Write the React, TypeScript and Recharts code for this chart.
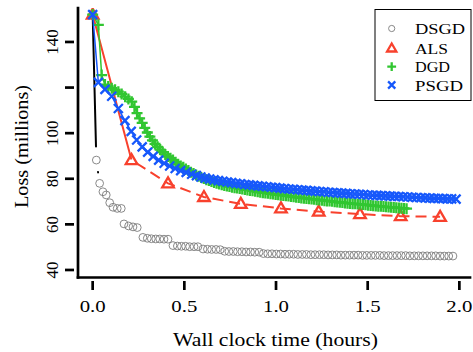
import { Scatter, ScatterChart, XAxis, YAxis } from "recharts";

// Loss (millions) vs wall clock time (hours).
const dsgdTime = [
  0, 0.02, 0.038, 0.056, 0.074, 0.093, 0.111, 0.134, 0.156, 0.171,
  0.196, 0.22, 0.243, 0.274, 0.298, 0.32, 0.344, 0.366, 0.389, 0.411,
  0.438, 0.462, 0.484, 0.507, 0.529, 0.553, 0.574, 0.602, 0.626, 0.649,
  0.673, 0.696, 0.72, 0.743, 0.767, 0.79, 0.814, 0.837, 0.861, 0.884,
  0.908, 0.931, 0.955, 0.978, 1.002, 1.025, 1.049, 1.072, 1.096, 1.119,
  1.143, 1.166, 1.19, 1.213, 1.237, 1.26, 1.284, 1.307, 1.331, 1.354,
  1.378, 1.401, 1.425, 1.448, 1.472, 1.495, 1.519, 1.542, 1.566, 1.589,
  1.613, 1.636, 1.66, 1.683, 1.707, 1.73, 1.754, 1.777, 1.801, 1.824,
  1.848, 1.871, 1.895, 1.918, 1.942, 1.965,
];
const dsgdLoss = [
  152, 88.2, 78.0, 74.3, 72.9, 69.5, 67.5, 67.0, 67.0, 60.2,
  59.3, 58.9, 58.6, 54.3, 53.9, 53.7, 53.6, 53.6, 53.5, 53.5,
  50.7, 50.5, 50.4, 50.4, 50.2, 50.2, 50.2, 49.2, 49.1, 49.0,
  49.0, 48.9, 48.2, 48.1, 48.1, 48.0, 48.0, 47.9, 47.9, 47.8,
  47.8, 47.2, 47.1, 47.1, 47.0, 47.0, 46.9, 46.9, 46.9, 46.8,
  46.8, 46.8, 46.7, 46.7, 46.7, 46.7, 46.6, 46.6, 46.6, 46.5,
  46.5, 46.5, 46.5, 46.5, 46.4, 46.4, 46.4, 46.4, 46.4, 46.3,
  46.3, 46.3, 46.3, 46.3, 46.3, 46.2, 46.2, 46.2, 46.2, 46.2,
  46.2, 46.2, 46.1, 46.1, 46.1, 46.1,
];

const alsTime = [0, 0.212, 0.411, 0.607, 0.808, 1.027, 1.233, 1.458, 1.68, 1.895];
const alsLoss = [152, 88.2, 78.0, 72.0, 69.0, 67.0, 65.6, 64.5, 63.6, 63.3];

const dgdTime = [
  0, 0.031, 0.049, 0.067, 0.085, 0.104, 0.122, 0.14, 0.158, 0.177,
  0.195, 0.213, 0.228, 0.242, 0.256, 0.27, 0.284, 0.298, 0.312, 0.326,
  0.34, 0.354, 0.368, 0.382, 0.396, 0.41, 0.424, 0.438, 0.452, 0.466,
  0.48, 0.494, 0.508, 0.522, 0.536, 0.55, 0.564, 0.578, 0.592, 0.606,
  0.62, 0.634, 0.648, 0.662, 0.676, 0.69, 0.704, 0.718, 0.732, 0.746,
  0.76, 0.774, 0.788, 0.802, 0.816, 0.83, 0.844, 0.858, 0.872, 0.886,
  0.9, 0.914, 0.928, 0.942, 0.956, 0.97, 0.984, 0.998, 1.012, 1.026,
  1.04, 1.054, 1.068, 1.082, 1.096, 1.11, 1.124, 1.138, 1.152, 1.166,
  1.18, 1.194, 1.208, 1.222, 1.236, 1.25, 1.264, 1.278, 1.292, 1.306,
  1.32, 1.334, 1.348, 1.362, 1.376, 1.39, 1.404, 1.418, 1.432, 1.446,
  1.46, 1.474, 1.488, 1.502, 1.516, 1.53, 1.544, 1.558, 1.572, 1.586,
  1.6, 1.614, 1.628, 1.642, 1.656, 1.67, 1.684, 1.698, 1.712,
];
const dgdLoss = [
  152, 147.5, 125.5, 121.3, 120.5, 119.7, 119.0, 118.2, 117.2, 116.0,
  115.0, 113.8, 111.5, 108.8, 106.5, 104.5, 102.3, 100.3, 98.5, 96.8,
  95.3, 94.0, 92.8, 91.7, 90.7, 89.8, 89.0, 88.2, 87.3, 86.4,
  85.6, 85.0, 84.3, 83.6, 82.9, 82.3, 81.7, 81.1, 80.6, 80.1,
  79.6, 79.2, 78.8, 78.4, 78.0, 77.7, 77.4, 77.1, 76.8, 76.6,
  76.3, 76.1, 75.9, 75.7, 75.5, 75.3, 75.1, 74.9, 74.7, 74.5,
  74.3, 74.1, 73.9, 73.8, 73.6, 73.4, 73.3, 73.1, 73.0, 72.8,
  72.7, 72.5, 72.4, 72.2, 72.1, 71.9, 71.8, 71.6, 71.5, 71.4,
  71.2, 71.1, 71.0, 70.8, 70.7, 70.6, 70.4, 70.3, 70.2, 70.1,
  69.9, 69.8, 69.7, 69.6, 69.4, 69.3, 69.2, 69.1, 69.0, 68.9,
  68.8, 68.7, 68.6, 68.4, 68.3, 68.2, 68.1, 68.0, 67.9, 67.8,
  67.7, 67.6, 67.5, 67.4, 67.3, 67.2, 67.1, 67.0, 66.9,
];

const psgdTime = [
  0, 0.031, 0.067, 0.104, 0.14, 0.176, 0.21, 0.24, 0.27, 0.3,
  0.33, 0.36, 0.39, 0.42, 0.45, 0.48, 0.51, 0.54, 0.566, 0.59,
  0.614, 0.638, 0.662, 0.686, 0.71, 0.734, 0.758, 0.782, 0.806, 0.83,
  0.854, 0.878, 0.902, 0.926, 0.95, 0.974, 0.998, 1.022, 1.046, 1.07,
  1.094, 1.118, 1.142, 1.166, 1.19, 1.214, 1.238, 1.262, 1.286, 1.31,
  1.334, 1.358, 1.382, 1.406, 1.43, 1.454, 1.478, 1.502, 1.526, 1.55,
  1.574, 1.598, 1.622, 1.646, 1.67, 1.694, 1.718, 1.742, 1.766, 1.79,
  1.814, 1.838, 1.862, 1.886, 1.91, 1.934, 1.958, 1.982,
];
const psgdLoss = [
  152, 122.3, 119.2, 116.2, 110.8, 105.5, 100.8, 97.0, 94.0, 91.7,
  89.8, 88.2, 86.8, 85.6, 84.5, 83.6, 82.8, 82.0, 81.4, 80.8,
  80.3, 79.9, 79.5, 79.2, 78.9, 78.6, 78.3, 78.0, 77.8, 77.5,
  77.3, 77.1, 76.9, 76.7, 76.5, 76.3, 76.1, 75.9, 75.7, 75.5,
  75.4, 75.2, 75.0, 74.9, 74.7, 74.6, 74.4, 74.3, 74.1, 74.0,
  73.8, 73.7, 73.6, 73.4, 73.3, 73.2, 73.1, 72.9, 72.8, 72.7,
  72.6, 72.5, 72.4, 72.3, 72.2, 72.1, 72.0, 71.9, 71.8, 71.7,
  71.6, 71.5, 71.4, 71.4, 71.3, 71.2, 71.2, 71.1,
];

const xTicks = [0, 0.5, 1, 1.5, 2];
const xTickLabels = ["0.0", "0.5", "1.0", "1.5", "2.0"];
const yTicks = [40, 60, 80, 100, 120, 140];
const yTickLabels = ["40", "60", "80", "100", "", "140"];

const seriesNames = ["DSGD", "ALS", "DGD", "PSGD"];

const GREY = "#7c7c7c";
const RED = "#f8412d";
const GREEN = "#31c631";
const BLUE = "#1658fb";
const FONT = "'Liberation Serif', 'Times New Roman', serif";

const zip = (t: number[], l: number[]) => t.map((x, i) => ({ t: x, loss: l[i] }));

const dsgd = zip(dsgdTime, dsgdLoss);
const als = zip(alsTime, alsLoss);
const dgd = zip(dgdTime, dgdLoss);
const psgd = zip(psgdTime, psgdLoss);

// first ALS segment is drawn solid in the source, dashes after that
const alsDash = "150 6" + " 11 6".repeat(40);

type P = { cx?: number; cy?: number; s?: number };

function Ring({ cx = 0, cy = 0, s = 1 }: P) {
  return <circle cx={cx} cy={cy} r={3.9 * s} fill="none" stroke={GREY} strokeWidth={0.9} />;
}
function Tri({ cx = 0, cy = 0, s = 1 }: P) {
  const w = 5.8 * s;
  return (
    <path
      d={`M${cx},${cy - 6 * s}L${cx + w},${cy + 4 * s}L${cx - w},${cy + 4 * s}Z`}
      fill="none"
      stroke={RED}
      strokeWidth={2.3}
    />
  );
}
function PlusMark({ cx = 0, cy = 0, s = 1 }: P) {
  const a = 5.5 * s;
  return <path d={`M${cx - a},${cy}H${cx + a}M${cx},${cy - a}V${cy + a}`} stroke={GREEN} strokeWidth={2.3} />;
}
function XMark({ cx = 0, cy = 0, s = 1 }: P) {
  const a = 4.5 * s;
  return (
    <path
      d={`M${cx - a},${cy - a}L${cx + a},${cy + a}M${cx - a},${cy + a}L${cx + a},${cy - a}`}
      stroke={BLUE}
      strokeWidth={2.3}
    />
  );
}

function XTick({ x, y, index }: { x: number; y: number; index: number }) {
  return (
    <g>
      <line x1={x} x2={x} y1={y + 3.5} y2={y + 12.5} stroke="#000" strokeWidth={2.7} />
      <text
        x={x}
        y={y + 34.5}
        textAnchor="middle"
        fontSize={16}
        fontFamily={FONT}
        fill="#000"
        textLength={26}
        lengthAdjust="spacingAndGlyphs"
      >
        {xTickLabels[index]}
      </text>
    </g>
  );
}

function YTick({ x, y, index }: { x: number; y: number; index: number }) {
  return (
    <g>
      <line x1={x - 13} x2={x - 4} y1={y} y2={y} stroke="#000" strokeWidth={2.7} />
      <text
        transform={`translate(${x - 19.7},${y}) rotate(-90)`}
        textAnchor="middle"
        fontSize={17}
        fontFamily={FONT}
        fill="#000"
      >
        {yTickLabels[index]}
      </text>
    </g>
  );
}

const legendRows = [
  { Mark: Ring, y: 28.5, len: 50 },
  { Mark: Tri, y: 48.3, len: 33 },
  { Mark: PlusMark, y: 66.7, len: 35 },
  { Mark: XMark, y: 85, len: 48 },
];

function LegendBox() {
  return (
    <svg width={473} height={352} style={{ position: "absolute", left: 0, top: 0, pointerEvents: "none" }}>
      <rect x={375} y={9.5} width={96} height={91} fill="#fff" stroke="#000" strokeWidth={1} />
      {legendRows.map(({ Mark, y, len }, i) => (
        <g key={seriesNames[i]}>
          <Mark cx={391.7} cy={y} s={0.8} />
          <text
            x={415}
            y={y + 5.5}
            fontSize={15}
            fontFamily={FONT}
            fill="#000"
            textLength={len}
            lengthAdjust="spacingAndGlyphs"
          >
            {seriesNames[i]}
          </text>
        </g>
      ))}
    </svg>
  );
}

export default function App() {
  return (
    <div style={{ position: "absolute", left: 0, top: 0, width: 473, height: 352, background: "#fff" }}>
      <ScatterChart width={473} height={352} margin={{ top: 8, right: 3, bottom: 0, left: 0 }}>
        <XAxis
          type="number"
          dataKey="t"
          domain={[-0.08, 2.058]}
          ticks={xTicks}
          allowDataOverflow
          height={74.5}
          axisLine={{ stroke: "#000", strokeWidth: 2.7, strokeLinecap: "square" }}
          tickLine={false}
          tickSize={0}
          tickMargin={0}
          tick={(p: any) => <XTick x={p.x} y={p.y} index={p.index} />}
          label={() => (
            <text
              x={275.5}
              y={346}
              textAnchor="middle"
              fontSize={19}
              fontFamily={FONT}
              fill="#000"
              textLength={205}
              lengthAdjust="spacingAndGlyphs"
            >
              Wall clock time (hours)
            </text>
          )}
        />
        <YAxis
          type="number"
          dataKey="loss"
          domain={[36.7, 154.9]}
          ticks={yTicks}
          allowDataOverflow
          width={78}
          axisLine={{ stroke: "#000", strokeWidth: 2.7, strokeLinecap: "square" }}
          tickLine={false}
          tickSize={0}
          tickMargin={0}
          tick={(p: any) => <YTick x={p.x} y={p.y} index={p.index} />}
          label={() => (
            <text
              transform="translate(27.5,146.5) rotate(-90)"
              textAnchor="middle"
              fontSize={19}
              fontFamily={FONT}
              fill="#000"
              textLength={123}
              lengthAdjust="spacingAndGlyphs"
            >
              Loss (millions)
            </text>
          )}
        />
        <Scatter
          name="DSGD"
          data={dsgd}
          isAnimationActive={false}
          lineType="joint"
          line={{ stroke: "#000", strokeWidth: 2, strokeDasharray: "132 25.5 0.5 99999", strokeLinecap: "round" }}
          shape={(p: any) => <Ring cx={p.cx} cy={p.cy} />}
        />
        <Scatter
          name="ALS"
          data={als}
          isAnimationActive={false}
          lineType="joint"
          line={{ stroke: RED, strokeWidth: 2, strokeDasharray: alsDash }}
          shape={(p: any) => <Tri cx={p.cx} cy={p.cy} />}
        />
        <Scatter
          name="DGD"
          data={dgd}
          isAnimationActive={false}
          lineType="joint"
          line={{ stroke: GREEN, strokeWidth: 1.5 }}
          shape={(p: any) => <PlusMark cx={p.cx} cy={p.cy} />}
        />
        <Scatter
          name="PSGD"
          data={psgd}
          isAnimationActive={false}
          lineType="joint"
          line={{ stroke: BLUE, strokeWidth: 1.5 }}
          shape={(p: any) => <XMark cx={p.cx} cy={p.cy} />}
        />
      </ScatterChart>
      <LegendBox />
    </div>
  );
}
